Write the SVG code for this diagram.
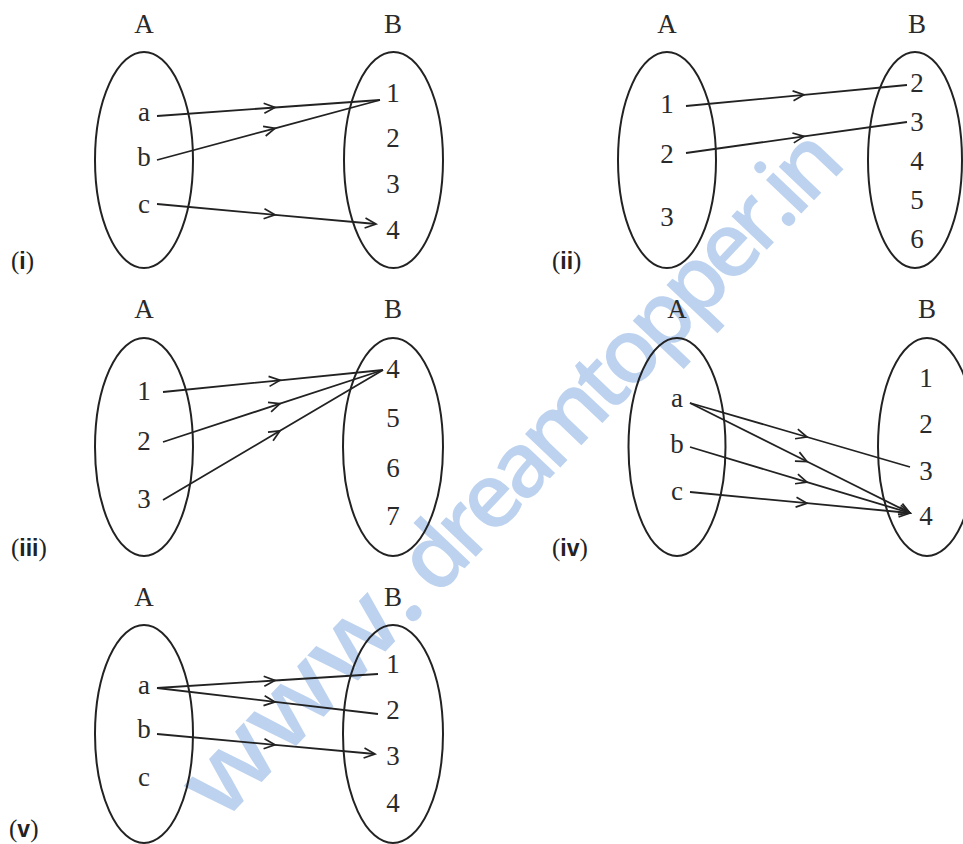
<svg xmlns="http://www.w3.org/2000/svg" width="963" height="844" viewBox="0 0 963 844">
<style>
.set{fill:none;stroke:#222;stroke-width:2}
.el{font-family:"Liberation Serif","Times New Roman",serif;font-size:27px;fill:#2a2a2a;text-anchor:middle}
.hd{font-family:"Liberation Serif","Times New Roman",serif;font-size:27px;fill:#2a2a2a;text-anchor:middle}
.lb{font-family:"Liberation Serif",serif;font-size:25px;fill:#222}
.lb .r{font-family:"Liberation Sans","Open Sans",sans-serif;font-weight:bold;font-size:23px}
.cn{fill:none;stroke:#222;stroke-width:1.8;marker-mid:url(#ah)}
.end{marker-end:url(#ah)}
.wm{font-family:"Open Sans","Liberation Sans",sans-serif;font-weight:600;fill:#bcd2ef}
</style>
<defs>
<marker id="ah" viewBox="-12 -6 14 12" refX="0" refY="0" markerWidth="14" markerHeight="12" markerUnits="userSpaceOnUse" orient="auto" overflow="visible">
<path d="M-11,-5 L0,0 L-11,5" fill="none" stroke="#222" stroke-width="1.7"/>
</marker>
</defs>
<rect width="963" height="844" fill="#fff"/>
<g id="watermark" transform="translate(222 824) rotate(-46.5)">
<text class="wm" x="0" y="0" font-size="100" textLength="300" lengthAdjust="spacingAndGlyphs">www.</text>
<text class="wm" x="312" y="0" font-size="90" textLength="598" lengthAdjust="spacing">dreamtopper.in</text>
</g>

<g id="panel-i">
<text class="lb" x="11" y="269">(<tspan class="r">i</tspan>)</text>
<g id="i-A"><ellipse class="set" cx="144" cy="160" rx="49" ry="108"/><text class="hd" x="144" y="33">A</text>
<text class="el" x="144" y="121">a</text><text class="el" x="144" y="166">b</text><text class="el" x="144" y="213">c</text></g>
<g id="i-B"><ellipse class="set" cx="393.5" cy="160" rx="49.5" ry="108"/><text class="hd" x="393" y="33">B</text>
<text class="el" x="393" y="102">1</text><text class="el" x="393" y="147">2</text><text class="el" x="393" y="193">3</text><text class="el" x="393" y="239">4</text></g>
</g>

<g id="panel-ii">
<text class="lb" x="552" y="269">(<tspan class="r">ii</tspan>)</text>
<g id="ii-A"><ellipse class="set" cx="667" cy="160" rx="49" ry="108"/><text class="hd" x="667" y="33">A</text>
<text class="el" x="667" y="113">1</text><text class="el" x="667" y="163">2</text><text class="el" x="667" y="226">3</text></g>
<g id="ii-B"><ellipse class="set" cx="915" cy="160" rx="47" ry="108"/><text class="hd" x="917" y="33">B</text>
<text class="el" x="917" y="92">2</text><text class="el" x="917" y="131">3</text><text class="el" x="917" y="170">4</text><text class="el" x="917" y="209">5</text><text class="el" x="917" y="248">6</text></g>
</g>

<g id="panel-iii">
<text class="lb" x="11" y="556">(<tspan class="r">iii</tspan>)</text>
<g id="iii-A"><ellipse class="set" cx="144" cy="447" rx="49" ry="109"/><text class="hd" x="144" y="318">A</text>
<text class="el" x="144" y="400">1</text><text class="el" x="144" y="450">2</text><text class="el" x="144" y="508">3</text></g>
<g id="iii-B"><ellipse class="set" cx="393" cy="447" rx="50" ry="109"/><text class="hd" x="393" y="318">B</text>
<text class="el" x="393" y="378">4</text><text class="el" x="393" y="427">5</text><text class="el" x="393" y="477">6</text><text class="el" x="393" y="525">7</text></g>
</g>

<g id="panel-iv">
<text class="lb" x="552" y="556">(<tspan class="r">iv</tspan>)</text>
<g id="iv-A"><ellipse class="set" cx="677" cy="447" rx="48.5" ry="109"/><text class="hd" x="677" y="318">A</text>
<text class="el" x="677" y="407">a</text><text class="el" x="677" y="453">b</text><text class="el" x="677" y="500">c</text></g>
<g id="iv-B"><ellipse class="set" cx="927" cy="447" rx="49" ry="109"/><text class="hd" x="927" y="318">B</text>
<text class="el" x="926" y="387">1</text><text class="el" x="926" y="433">2</text><text class="el" x="926" y="480">3</text><text class="el" x="926" y="525">4</text></g>
</g>

<g id="panel-v">
<text class="lb" x="9" y="837">(<tspan class="r">v</tspan>)</text>
<g id="v-A"><ellipse class="set" cx="144" cy="734" rx="49" ry="109"/><text class="hd" x="144" y="606">A</text>
<text class="el" x="144" y="694">a</text><text class="el" x="144" y="738">b</text><text class="el" x="144" y="786">c</text></g>
<g id="v-B"><ellipse class="set" cx="393" cy="734" rx="50" ry="109"/><text class="hd" x="393" y="606">B</text>
<text class="el" x="393" y="673">1</text><text class="el" x="393" y="719">2</text><text class="el" x="393" y="765">3</text><text class="el" x="393" y="812">4</text></g>
</g>

<g id="connectors">
<polyline class="cn" points="157,116 275,107.5 380,100"/>
<polyline class="cn" points="157,160 275,128.3 380,100"/>
<polyline class="cn end" points="157,204 275,214.8 376,224"/>

<polyline class="cn" points="686,106 804,94.8 907,85"/>
<polyline class="cn" points="686,153 804,136.4 907,122"/>

<polyline class="cn" points="163,392 280,380.3 383,370"/>
<polyline class="cn" points="163,442 280,403.7 383,370"/>
<polyline class="cn" points="163,500 280,430.8 383,370"/>

<polyline class="cn" points="690,403 807,437 910,467"/>
<polyline class="cn end" points="690,403 807,461.5 910,513"/>
<polyline class="cn end" points="690,447 807,482.1 910,513"/>
<polyline class="cn end" points="690,492 807,503.2 910,513"/>

<polyline class="cn" points="157,688 275,680.5 378,674"/>
<polyline class="cn" points="157,688 275,701.9 378,714"/>
<polyline class="cn end" points="157,734 275,744.8 375,754"/>
</g>
</svg>
